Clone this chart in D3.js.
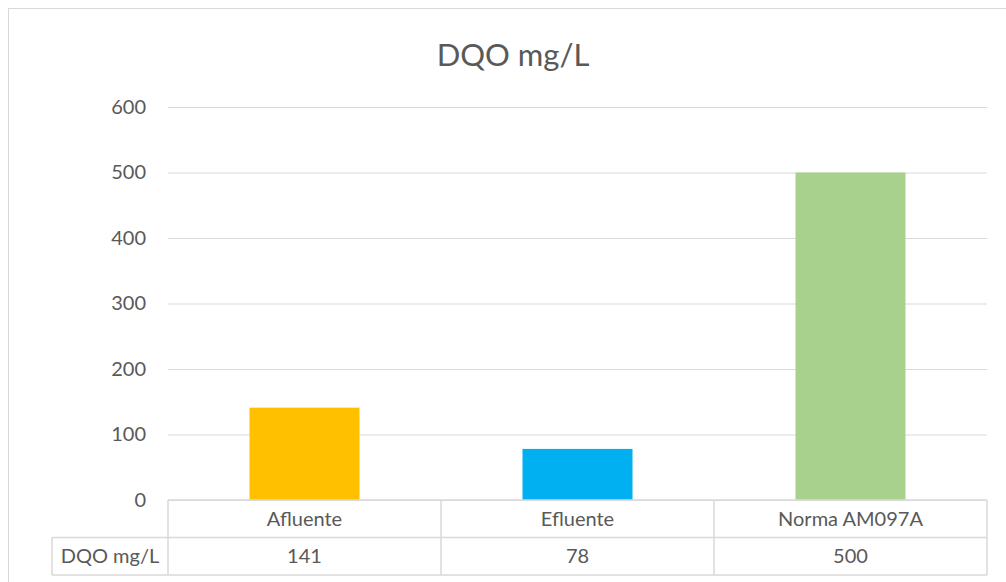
<!DOCTYPE html>
<html>
<head>
<meta charset="utf-8">
<script src="https://cdn.jsdelivr.net/npm/d3@7"></script>
<style>
  body { margin: 0; background: #fff; }
  text { font-family: Lato, sans-serif; fill: #595959; }
</style>
</head>
<body>
<svg></svg>
<script>
const categories = ['Afluente', 'Efluente', 'Norma AM097A']
const values = [141, 78, 500]
const colors = ['#FFC000', '#00B0F0', '#A9D18E']
const yTicks = [0, 100, 200, 300, 400, 500, 600]
const seriesName = 'DQO mg/L'
const title = 'DQO mg/L'

const w = 1006
const h = 582

const svg = d3.select('svg')
  .attr('width', w)
  .attr('height', h);

// chart border
svg.append('rect')
  .attr('x', 8.5).attr('y', 8.5)
  .attr('width', 1010).attr('height', 600)
  .attr('fill', 'none')
  .attr('stroke', '#d9d9d9');

const margin = {top: 107, right: 19, bottom: 82, left: 168};
const innerWidth = w - margin.left - margin.right;
const innerHeight = h - margin.top - margin.bottom;

const bandX = d3.scaleBand()
  .domain(categories)
  .range([0, innerWidth])

const yScale = d3.scaleLinear()
  .domain([0, 600])
  .range([innerHeight, 0])

const g = svg.append('g')
  .attr('transform', `translate(${margin.left}, ${margin.top})`);

const yAxis = d3.axisLeft(yScale)
  .tickValues(yTicks)
  .tickSize(-innerWidth)
  .tickPadding(22)

const yAxisG = g.append('g').call(yAxis)
yAxisG.select('.domain').remove()
yAxisG.selectAll('line').attr('stroke', '#d9d9d9')
yAxisG.selectAll('text')
  .attr('font-size', '20px')
  .attr('font-family', 'Lato, sans-serif')
  .attr('fill', '#595959')

g.selectAll('rect.bar').data(values)
  .enter().append('rect')
  .attr('class', 'bar')
  .attr('x', (d, i) => bandX(categories[i]) + bandX.bandwidth() / 2 - 55)
  .attr('width', 110)
  .attr('y', d => yScale(d))
  .attr('height', d => innerHeight - yScale(d))
  .attr('fill', (d, i) => colors[i])

// data table
const rowH = 37.5
const t = g.append('g').attr('transform', `translate(0, ${innerHeight})`)
const lineColor = '#d9d9d9'
const hline = (x1, x2, y) => t.append('line')
  .attr('x1', x1).attr('x2', x2).attr('y1', y).attr('y2', y)
  .attr('stroke', lineColor).attr('stroke-width', 1.5)
const vline = (x, y1, y2) => t.append('line')
  .attr('x1', x).attr('x2', x).attr('y1', y1).attr('y2', y2)
  .attr('stroke', lineColor).attr('stroke-width', 1.5)

hline(0, innerWidth, 0)
hline(-116, innerWidth, rowH)
hline(-116, innerWidth, rowH * 2)
vline(-116, rowH, rowH * 2)
categories.forEach(c => vline(bandX(c), 0, rowH * 2))
vline(innerWidth, 0, rowH * 2)

t.selectAll('text.cat').data(categories)
  .enter().append('text')
  .attr('class', 'cat')
  .attr('x', d => bandX(d) + bandX.bandwidth() / 2)
  .attr('y', rowH / 2)
  .attr('dy', '0.35em')
  .attr('text-anchor', 'middle')
  .attr('font-size', '20px')
  .text(d => d)

t.selectAll('text.val').data(values)
  .enter().append('text')
  .attr('class', 'val')
  .attr('x', (d, i) => bandX(categories[i]) + bandX.bandwidth() / 2)
  .attr('y', rowH * 1.5)
  .attr('dy', '0.35em')
  .attr('text-anchor', 'middle')
  .attr('font-size', '20px')
  .text(d => d)

t.append('text')
  .attr('x', -58)
  .attr('y', rowH * 1.5)
  .attr('dy', '0.35em')
  .attr('text-anchor', 'middle')
  .attr('font-size', '20px')
  .text(seriesName)

svg.append('text')
  .attr('x', 513)
  .attr('y', 55)
  .attr('dy', '0.35em')
  .attr('text-anchor', 'middle')
  .attr('font-size', '31px')
  .text(title)
</script>
</body>
</html>
